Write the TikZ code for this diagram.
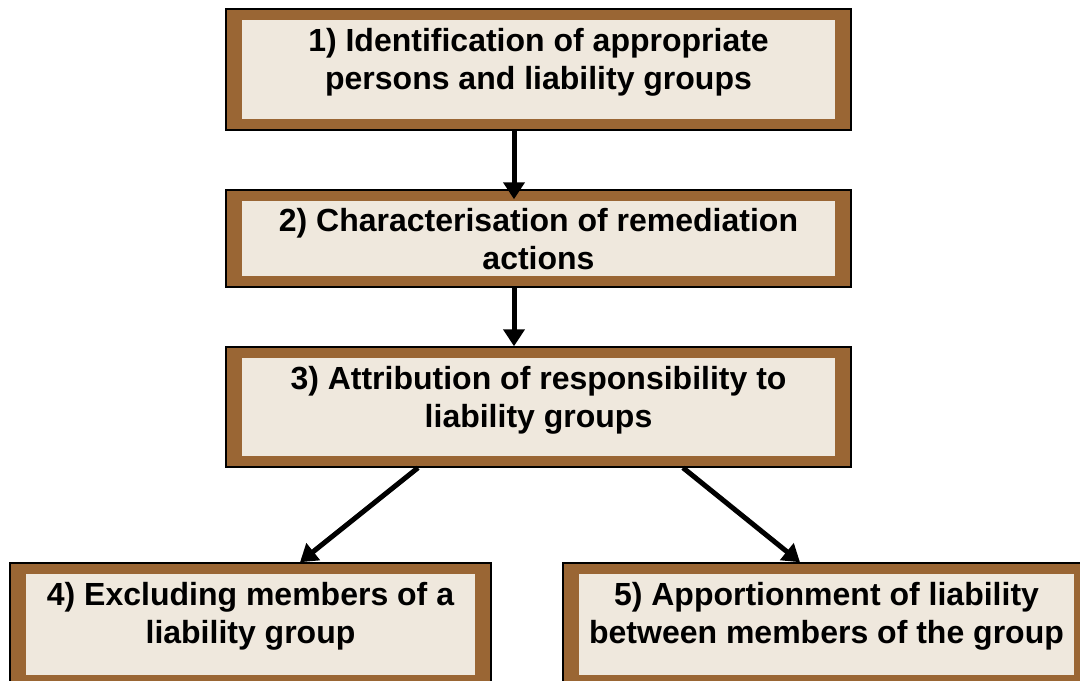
\documentclass[tikz,border=0pt]{standalone}
\usepackage{fontspec}
\setmainfont{Liberation Sans}
\usetikzlibrary{arrows.meta}
\definecolor{framebrown}{RGB}{154,102,52}
\definecolor{cream}{RGB}{239,232,221}
\tikzset{
  stepbox/.style={draw=black, line width=0.75pt, fill=framebrown,
    path picture={\fill[cream] ([xshift=8pt,yshift=5.5pt]path picture bounding box.south west)
      rectangle ([xshift=-8pt,yshift=-5.5pt]path picture bounding box.north east);}},
  steptext/.style={align=center, font=\bfseries\fontsize{16}{19}\selectfont},
  flow/.style={line width=2.5pt, -{Triangle[length=8.5pt,width=10.5pt]}}
}
\begin{document}
\begin{tikzpicture}[x=0.5pt,y=-0.5pt]
\useasboundingbox (0,0) rectangle (1080,680);
\clip (0,0) rectangle (1080,680);
\node[stepbox, minimum width=312.5pt, minimum height=60.5pt] (s1) at (538.5,69.5) {};
\node[stepbox, minimum width=312.5pt, minimum height=48.5pt] (s2) at (538.5,238.5) {};
\node[stepbox, minimum width=312.5pt, minimum height=60pt] (s3) at (538.5,407) {};
\node[stepbox, minimum width=240.5pt, minimum height=61.5pt] (s4) at (250.5,624.5) {};
\node[stepbox, minimum width=263.5pt, minimum height=61.5pt] (s5) at (826.5,624.5) {};
\node[steptext] (t1) at ([yshift=3.75pt]s1.center) {1) Identification of appropriate\\persons and liability groups};
\node[steptext] (t2) at ([yshift=-0.5pt]s2.center) {2) Characterisation of remediation\\actions};
\node[steptext] (t3) at ([yshift=3.5pt]s3.center) {3) Attribution of responsibility to\\liability groups};
\node[steptext] (t4) at ([yshift=4pt]s4.center) {4) Excluding members of a\\liability group};
\node[steptext] (t5) at ([yshift=4pt]s5.center) {5) Apportionment of liability\\between members of the group};
\draw[flow, shorten >=-5pt] ([xshift=-12.25pt]s1.south) -- ([xshift=-12.25pt]s2.north);
\draw[flow] ([xshift=-12.25pt]s2.south) -- ([xshift=-12.25pt]s3.north);
\draw[flow] ([xshift=-60.25pt]s3.south) -- ([xshift=24.75pt]s4.north);
\draw[flow] ([xshift=72.25pt]s3.south) -- ([xshift=-13.25pt]s5.north);
\end{tikzpicture}
\end{document}
